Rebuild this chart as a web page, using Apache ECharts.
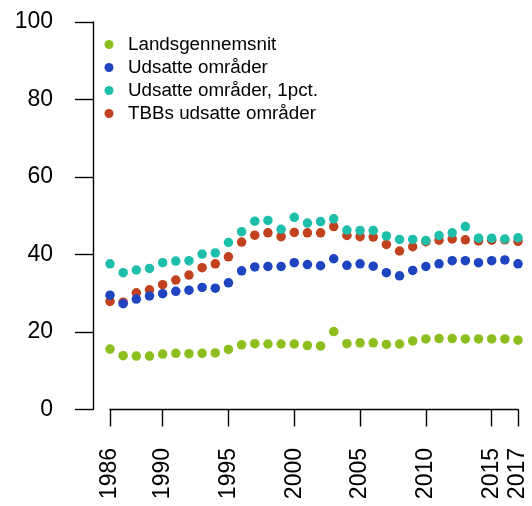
<!DOCTYPE html>
<html><head><meta charset="utf-8">
<script src="https://cdn.jsdelivr.net/npm/echarts@6/dist/echarts.min.js"></script>
<style>html,body{margin:0;padding:0;background:#fff}#c{width:532px;height:506px}</style>
</head><body><div id="c"></div>
<script>
const years = [];
for (let y = 1986; y <= 2017; y++) years.push(String(y));
const xTickLabels = ['1986','1990','1995','2000','2005','2010','2015','2017'];
const yTicks = [0, 20, 40, 60, 80, 100];

const landsgennemsnit = [15.6,13.9,13.8,13.8,14.3,14.5,14.4,14.5,14.6,15.5,16.7,17.0,16.9,16.9,16.9,16.5,16.4,20.1,17.0,17.2,17.2,16.8,16.9,17.7,18.2,18.3,18.3,18.2,18.2,18.2,18.2,17.9];
const udsatte = [29.5,27.3,28.5,29.3,29.9,30.5,30.8,31.5,31.3,32.7,35.8,36.8,36.9,36.9,37.9,37.4,37.1,38.9,37.2,37.6,37.0,35.3,34.5,35.9,36.9,37.6,38.4,38.4,37.9,38.4,38.6,37.6];
const udsatte1pct = [37.6,35.3,36.0,36.4,37.9,38.3,38.4,40.1,40.4,43.1,45.9,48.6,48.8,46.5,49.6,48.1,48.5,49.2,46.3,46.2,46.2,44.8,43.9,43.9,43.6,44.9,45.6,47.2,44.2,44.2,44.0,44.3];
const tbbs = [27.9,27.7,30.1,30.9,32.2,33.4,34.7,36.6,37.6,39.4,43.2,45.0,45.6,44.6,45.7,45.6,45.6,47.2,44.9,44.6,44.5,42.6,40.9,42.0,43.3,43.7,44.0,43.8,43.5,43.7,43.8,43.4];

const names = ['Landsgennemsnit','Udsatte områder','Udsatte områder, 1pct.','TBBs udsatte områder'];
const colors = {'Landsgennemsnit':'#8cbf1e','Udsatte områder':'#1f44c0','Udsatte områder, 1pct.':'#1ebfaa','TBBs udsatte områder':'#c2421f'};
const FONT = 'Liberation Sans, Arial, sans-serif';

const chart = echarts.init(document.getElementById('c'), null, {renderer:'canvas'});
function s(name, data){
  return {name, type:'scatter', data, symbol:'circle', symbolSize:9.5,
    itemStyle:{color:colors[name], opacity:1}, emphasis:{disabled:true}};
}
chart.setOption({
  animation:false,
  backgroundColor:'#fff',
  grid:{left:110, right:14, top:22, bottom:96.5, containLabel:false},
  legend:{
    data:names.map(n=>({name:n, icon:'circle'})),
    orient:'vertical', left:99.5, top:29.5,
    itemWidth:28, itemHeight:9, itemGap:3,
    textStyle:{fontFamily:FONT, fontSize:18.8, color:'#000', lineHeight:20},
    selectedMode:false
  },
  xAxis:{
    type:'category', data:years, boundaryGap:false,
    offset:2.5,
    axisLine:{show:true, lineStyle:{color:'#000', width:1.4}},
    axisTick:{show:true, length:17, lineStyle:{color:'#000', width:1.4},
      interval:(i,v)=>xTickLabels.includes(v)},
    axisLabel:{rotate:90, margin:36, fontFamily:FONT, fontSize:23, color:'#000',
      interval:(i,v)=>xTickLabels.includes(v)},
    splitLine:{show:false}
  },
  yAxis:{
    type:'value', min:yTicks[0], max:yTicks[yTicks.length-1], interval:20,
    offset:17,
    axisLine:{show:true, lineStyle:{color:'#000', width:1.4}},
    axisTick:{show:true, length:18, lineStyle:{color:'#000', width:1.4}},
    axisLabel:{margin:40, fontFamily:FONT, fontSize:23, color:'#000'},
    splitLine:{show:false}
  },
  series:[
    s('Landsgennemsnit', landsgennemsnit),
    s('TBBs udsatte områder', tbbs),
    s('Udsatte områder', udsatte),
    s('Udsatte områder, 1pct.', udsatte1pct)
  ]
});
</script></body></html>
